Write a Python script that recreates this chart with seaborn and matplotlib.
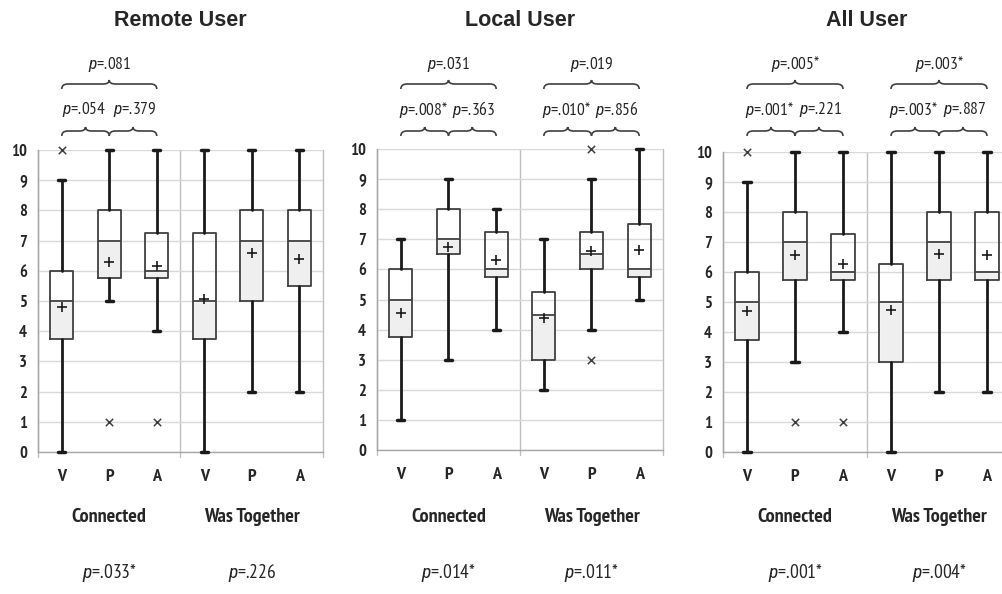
import matplotlib
matplotlib.use('Agg')
import matplotlib.pyplot as plt
from matplotlib import font_manager
from matplotlib import transforms
from matplotlib.path import Path
from matplotlib.patches import PathPatch
import seaborn as sns
import pandas as pd

W, H = 1003, 594

panels = ['Remote User', 'Local User', 'All User']
conds = ['V', 'P', 'A', 'V', 'P', 'A']
groups = ['Connected', 'Was Together']

# box summaries: Connected V,P,A then Was Together V,P,A
remote_lo = [0, 5, 4, 0, 2, 2]
remote_q1 = [3.75, 5.75, 5.75, 3.75, 5, 5.5]
remote_med = [5, 7, 6, 5, 7, 7]
remote_q3 = [6, 8, 7.25, 7.25, 8, 8]
remote_hi = [9, 10, 10, 10, 10, 10]
remote_mean = [4.8, 6.3, 6.15, 5.05, 6.6, 6.4]
remote_out = [[10], [1], [1], [], [], []]

local_lo = [1, 3, 4, 2, 4, 5]
local_q1 = [3.75, 6.5, 5.75, 3, 6, 5.75]
local_med = [5, 7, 6, 4.5, 6.5, 6]
local_q3 = [6, 8, 7.25, 5.25, 7.25, 7.5]
local_hi = [7, 9, 8, 7, 9, 10]
local_mean = [4.55, 6.75, 6.3, 4.4, 6.6, 6.65]
local_out = [[], [], [], [], [10, 3], []]

all_lo = [0, 3, 4, 0, 2, 2]
all_q1 = [3.75, 5.75, 5.75, 3, 5.75, 5.75]
all_med = [5, 7, 6, 5, 7, 6]
all_q3 = [6, 8, 7.25, 6.25, 8, 8]
all_hi = [9, 10, 10, 10, 10, 10]
all_mean = [4.7, 6.55, 6.25, 4.75, 6.6, 6.55]
all_out = [[10], [1], [1], [], [], []]

# p-values under each group
remote_group_p = ['.033*', '.226']
local_group_p = ['.014*', '.011*']
all_group_p = ['.001*', '.004*']

# pairwise p-values per group: V-P, P-A, V-A (None = no bracket)
remote_pair_p = [['.054', '.379', '.081'], None]
local_pair_p = [['.008*', '.363', '.031'], ['.010*', '.856', '.019']]
all_pair_p = [['.001*', '.221', '.005*'], ['.003*', '.887', '.003*']]

data = [
    (remote_lo, remote_q1, remote_med, remote_q3, remote_hi, remote_mean, remote_out, remote_group_p, remote_pair_p),
    (local_lo, local_q1, local_med, local_q3, local_hi, local_mean, local_out, local_group_p, local_pair_p),
    (all_lo, all_q1, all_med, all_q3, all_hi, all_mean, all_out, all_group_p, all_pair_p),
]

# axes boxes in pixels: left, right, top, bottom
rects_px = [(38, 323, 150, 452), (377, 663, 149, 450), (723, 1011, 152, 452)]

sns.set_style('white')

# narrow font like the original's Arial Narrow
names = {f.name for f in font_manager.fontManager.ttflist}
narrow = next((n for n in ['Liberation Sans Narrow', 'Arial Narrow', 'PT Sans Narrow',
                           'Roboto Condensed'] if n in names), 'Liberation Sans')
italic = next((n for n in ['Liberation Sans Narrow', 'Arial Narrow', 'Roboto Condensed']
               if n in names), 'Liberation Sans')
plt.rcParams['font.family'] = [narrow, 'DejaVu Sans']
plt.rcParams['mathtext.fontset'] = 'custom'
plt.rcParams['mathtext.it'] = italic + ':italic'
plt.rcParams['mathtext.rm'] = narrow

fig = plt.figure(figsize=(W / 100, H / 100), dpi=100)


def fy(px):
    return 1 - px / H


def brace(ax, tr, x0, x1, y, h=5 / H, r=0.13):
    xm = (x0 + x1) / 2
    verts = [(x0, y - h), (x0, y), (x0 + r, y), (xm - r, y), (xm, y), (xm, y + h * 0.8),
             (xm, y), (xm + r, y), (x1 - r, y), (x1, y), (x1, y - h)]
    codes = [Path.MOVETO, Path.CURVE3, Path.CURVE3, Path.LINETO, Path.CURVE3, Path.CURVE3,
             Path.CURVE3, Path.CURVE3, Path.LINETO, Path.CURVE3, Path.CURVE3]
    ax.add_patch(PathPatch(Path(verts, codes), transform=tr, fill=False,
                           lw=1.2, edgecolor='#404040', clip_on=False))


for i, (title, d, rp) in enumerate(zip(panels, data, rects_px)):
    lo, q1, med, q3, hi, mean, out, gp, pp = d
    l, r, t, b = rp
    ax = fig.add_axes([l / W, 1 - b / H, (r - l) / W, (b - t) / H])
    pos = list(range(len(conds)))

    ax.set_xlim(-0.5, 5.5)
    ax.set_ylim(0, 10)
    ax.set_yticks(range(11))
    ax.grid(axis='y', color='#d9d9d9', lw=1)
    ax.set_axisbelow(True)
    for s in ['top', 'right']:
        ax.spines[s].set_visible(False)
    for s in ['left', 'bottom']:
        ax.spines[s].set_color('#a6a6a6')
        ax.spines[s].set_linewidth(1)
    for xv in [-0.5, 2.5, 5.5]:
        ax.plot([xv, xv], [-0.17, 10], color='#bfbfbf', lw=1, clip_on=False, zorder=0.5)

    # lower half of each box shaded
    ax.bar(pos, [m - a for m, a in zip(med, q1)], bottom=q1, width=0.48,
           color='#efefef', zorder=1.5)

    stats = [dict(whislo=a, q1=b_, med=c, q3=e, whishi=f, fliers=[])
             for a, b_, c, e, f in zip(lo, q1, med, q3, hi)]
    arts = ax.bxp(stats, positions=pos, widths=0.48, capwidths=0.15,
                  showfliers=False, manage_ticks=False,
                  boxprops=dict(color='#404040', lw=1.3),
                  medianprops=dict(color='#404040', lw=1.3),
                  whiskerprops=dict(color='#1a1a1a', lw=2),
                  capprops=dict(color='#1a1a1a', lw=2.5))
    for key in arts:
        for a in arts[key]:
            a.set_clip_on(False)
            a.set_zorder(3)

    mdf = pd.DataFrame({'x': pos, 'mean': mean})
    sns.scatterplot(data=mdf, x='x', y='mean', marker='+', s=60, color='#1a1a1a',
                    linewidth=1.2, ax=ax, clip_on=False, zorder=5, legend=False)
    odf = pd.DataFrame({'x': [p for p, o in zip(pos, out) for _ in o],
                        'y': [v for o in out for v in o]})
    sns.scatterplot(data=odf, x='x', y='y', marker='x', s=28, color='#404040',
                    linewidth=1.1, ax=ax, clip_on=False, zorder=5, legend=False)

    ax.set_xlabel('')
    ax.set_ylabel('')
    ax.set_xticks(pos, conds)
    ax.tick_params(axis='x', length=0, pad=12, labelsize=13)
    ax.tick_params(axis='y', length=5, color='#bfbfbf', pad=3, labelsize=12)
    for lab in ax.get_xticklabels() + ax.get_yticklabels():
        lab.set_fontweight('bold')

    tr = transforms.blended_transform_factory(ax.transData, fig.transFigure)
    ax.text(2.5, fy(20), title, transform=tr, ha='center', va='center',
            fontsize=15.5, fontweight='bold', family='Liberation Sans')

    for g, (gname, p) in enumerate(zip(groups, gp)):
        xc = 1 + 3 * g
        ax.text(xc, fy(517), gname, transform=tr, ha='center', va='center',
                fontsize=14.5, fontweight='bold')
        ax.text(xc, fy(573), r'$p$=' + p, transform=tr, ha='center', va='center',
                fontsize=14)
        pairs = pp[g]
        if pairs is None:
            continue
        v, pa, a = xc - 1, xc, xc + 1
        brace(ax, tr, v, pa, fy(131))
        brace(ax, tr, pa, a, fy(131))
        brace(ax, tr, v, a, fy(84))
        ax.text((v + pa) / 2 - 0.03, fy(110), r'$p$=' + pairs[0], transform=tr,
                ha='center', va='center', fontsize=12.5)
        ax.text((pa + a) / 2 + 0.03, fy(110), r'$p$=' + pairs[1], transform=tr,
                ha='center', va='center', fontsize=12.5)
        ax.text(pa, fy(64), r'$p$=' + pairs[2], transform=tr,
                ha='center', va='center', fontsize=12.5)

fig.savefig('out.png', dpi=100)
